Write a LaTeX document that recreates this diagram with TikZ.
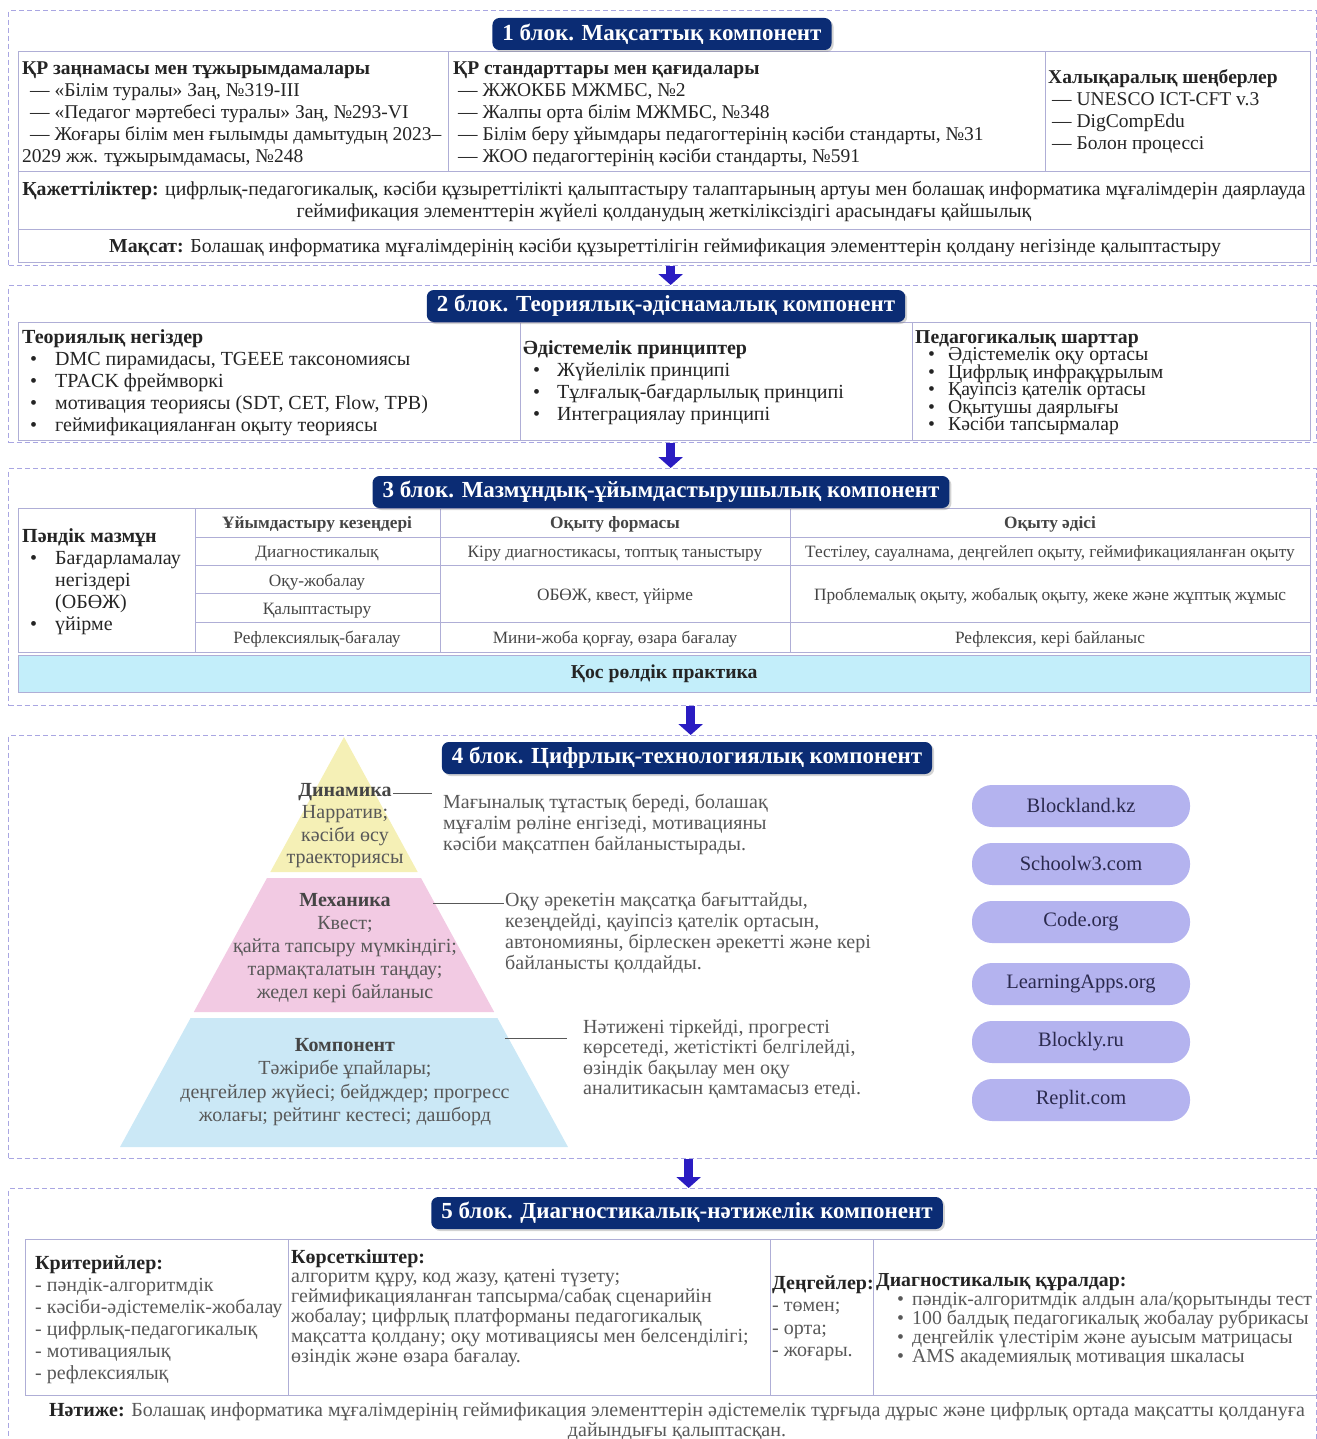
\documentclass[tikz,border=0pt]{standalone}
\usepackage{fontspec}
\setmainfont{Liberation Serif}
\usetikzlibrary{positioning,arrows.meta,shadows}

\definecolor{navy}{HTML}{0B2C74}
\definecolor{framecol}{HTML}{A9A6E2}
\definecolor{gridcol}{HTML}{AFAED6}
\definecolor{arrowcol}{HTML}{2A1CC2}
\definecolor{inkcol}{HTML}{242424}
\definecolor{softcol}{HTML}{585858}
\definecolor{dynfill}{HTML}{F5F0B6}
\definecolor{mechfill}{HTML}{F2CAE3}
\definecolor{compfill}{HTML}{CBE8F6}
\definecolor{practfill}{HTML}{C3EEFA}
\definecolor{pillfill}{HTML}{B4B3EF}
\definecolor{pillink}{HTML}{2B2A4E}

\newcommand{\fsz}[2]{\fontsize{#1}{#2}\selectfont\lineskiplimit=-20pt\relax}
\newcommand{\blt}[1]{\makebox[#1][l]{•}}

\tikzset{
  blockframe/.style={draw=framecol, dash pattern=on 5pt off 3pt, line width=1.3pt, anchor=north west, inner sep=0pt},
  blocktitle/.style={fill=navy, rounded corners=7pt, text=white, font=\fsz{23}{26}\bfseries,
    inner xsep=10pt, inner ysep=0pt, minimum height=32pt,
    drop shadow={shadow xshift=2pt, shadow yshift=-2pt, opacity=0.35}},
  gridline/.style={gridcol, line width=1pt},
  txt/.style={anchor=base west, inner sep=0pt, align=left, text=inkcol, font=\fsz{19.5}{22}},
  ctxt/.style={txt, anchor=base, align=center},
  celltxt/.style={anchor=base, inner sep=0pt, text=inkcol!85, font=\fsz{17.3}{20}},
  softtxt/.style={txt, text=softcol, font=\fsz{20}{21}},
  pyrtxt/.style={ctxt, text=softcol, font=\fsz{20}{22.5}},
  pill/.style={fill=pillfill, rounded corners=20pt, minimum width=218pt, minimum height=42pt,
    inner sep=0pt, text=pillink, font=\fsz{20.5}{22}},
  leader/.style={draw=softcol, line width=0.8pt},
  downarrow/.style={draw=arrowcol, line width=9pt, -{Triangle[width=24pt,length=11pt]}},
}

\begin{document}
\begin{tikzpicture}[x=1pt,y=-1pt]
\useasboundingbox (0,0) rectangle (1316,1439);

% dashed block frames
\node[blockframe, minimum width=1308pt, minimum height=255pt] (blk1) at (8,10) {};
\node[blockframe, minimum width=1308pt, minimum height=157pt] (blk2) at (8,285) {};
\node[blockframe, minimum width=1308pt, minimum height=237pt] (blk3) at (8,468) {};
\node[blockframe, minimum width=1308pt, minimum height=423pt] (blk4) at (8,735) {};
\node[blockframe, minimum width=1308pt, minimum height=262pt] (blk5) at (8,1188) {};

\draw[downarrow] ([xshift=8pt]blk1.south) -- ([xshift=8pt]blk2.north);
\draw[downarrow] ([xshift=8pt]blk2.south) -- ([xshift=8pt]blk3.north);
\draw[downarrow] ([xshift=28pt]blk3.south) -- ([xshift=28pt]blk4.north);
\draw[downarrow] ([xshift=26pt]blk4.south) -- ([xshift=26pt]blk5.north);

% ---- block 1
\draw[gridline] (18,52) rectangle (1310,262);
\draw[gridline] (18,172) -- (1310,172) (18,230) -- (1310,230);
\draw[gridline] (448,52) -- (448,172) (1045,52) -- (1045,172);

\node[txt] (law) at (22,163) {\textbf{ҚР заңнамасы мен тұжырымдамалары}\\
  \hspace*{8pt}— «Білім туралы» Заң, №319-III\\
  \hspace*{8pt}— «Педагог мәртебесі туралы» Заң, №293-VI\\
  \hspace*{8pt}— Жоғары білім мен ғылымды дамытудың 2023–\\
  2029 жж. тұжырымдамасы, №248};
\node[txt] (std) at (453,163) {\textbf{ҚР стандарттары мен қағидалары}\\
  \hspace*{5pt}— ЖЖОКББ МЖМБС, №2\\
  \hspace*{5pt}— Жалпы орта білім МЖМБС, №348\\
  \hspace*{5pt}— Білім беру ұйымдары педагогтерінің кәсіби стандарты, №31\\
  \hspace*{5pt}— ЖОО педагогтерінің кәсіби стандарты, №591};
\node[txt] (intl) at (1048,150) {\textbf{Халықаралық шеңберлер}\\
  \hspace*{4pt}— UNESCO ICT-CFT v.3\\
  \hspace*{4pt}— DigCompEdu\\
  \hspace*{4pt}— Болон процессі};
\node[ctxt, font=\fsz{19.8}{22}] (needs) at (664,218) {\textbf{Қажеттіліктер:} цифрлық-педагогикалық, кәсіби құзыреттілікті қалыптастыру талаптарының артуы мен болашақ информатика мұғалімдерін даярлауда\\
  геймификация элементтерін жүйелі қолданудың жеткіліксіздігі арасындағы қайшылық};
\node[ctxt, font=\fsz{19.8}{22}] (goal) at (665,252) {\textbf{Мақсат:} Болашақ информатика мұғалімдерінің кәсіби құзыреттілігін геймификация элементтерін  қолдану негізінде қалыптастыру};
\node[blocktitle] (t1) at (662,34) {1 блок. Мақсаттық компонент};

% ---- block 2
\draw[gridline] (18,322) rectangle (1310,440);
\draw[gridline] (520,322) -- (520,440) (912,322) -- (912,440);

\node[txt, font=\fsz{20}{22}] (theory) at (22,431) {\textbf{Теориялық негіздер}\\
  \hspace*{8pt}\blt{25pt}DMC пирамидасы, TGEEE таксономиясы\\
  \hspace*{8pt}\blt{25pt}TPACK фреймворкі\\
  \hspace*{8pt}\blt{25pt}мотивация теориясы (SDT, CET, Flow, TPB)\\
  \hspace*{8pt}\blt{25pt}геймификацияланған оқыту теориясы};
\node[txt, font=\fsz{20}{22}] (princ) at (523,420) {\textbf{Әдістемелік принциптер}\\
  \hspace*{10pt}\blt{24pt}Жүйелілік принципі\\
  \hspace*{10pt}\blt{24pt}Тұлғалық-бағдарлылық принципі\\
  \hspace*{10pt}\blt{24pt}Интеграциялау принципі};
\node[txt, font=\fsz{19.7}{17.5}] (cond) at (915,430.5) {\textbf{Педагогикалық шарттар}\\
  \hspace*{13pt}\blt{20pt}Әдістемелік оқу ортасы\\
  \hspace*{13pt}\blt{20pt}Цифрлық инфрақұрылым\\
  \hspace*{13pt}\blt{20pt}Қауіпсіз қателік ортасы\\
  \hspace*{13pt}\blt{20pt}Оқытушы даярлығы\\
  \hspace*{13pt}\blt{20pt}Кәсіби тапсырмалар};
\node[blocktitle] (t2) at (666,306) {2 блок. Теориялық-әдіснамалық компонент};

% ---- block 3
\draw[gridline] (18,508) rectangle (1310,652);
\draw[gridline] (195,508) -- (195,652) (440,508) -- (440,652) (790,508) -- (790,652);
\draw[gridline] (195,537) -- (1310,537) (195,565) -- (1310,565) (195,593) -- (440,593) (195,622) -- (1310,622);

\node[txt, font=\fsz{20}{22}] (subj) at (22,630) {\textbf{Пәндік мазмұн}\\
  \hspace*{8pt}\blt{25pt}Бағдарламалау\\
  \hspace*{33pt}негіздері\\
  \hspace*{33pt}(ОБӨЖ)\\
  \hspace*{8pt}\blt{25pt}үйірме};
\node[celltxt, font=\fsz{17.3}{20}\bfseries] (hstage) at (317,528) {Ұйымдастыру кезеңдері};
\node[celltxt, font=\fsz{17.3}{20}\bfseries] (hform) at (615,528) {Оқыту формасы};
\node[celltxt, font=\fsz{17.3}{20}\bfseries] (hmeth) at (1050,528) {Оқыту әдісі};
\node[celltxt] (st1) at (317,557) {Диагностикалық};
\node[celltxt] (st2) at (317,586) {Оқу-жобалау};
\node[celltxt] (st3) at (317,614) {Қалыптастыру};
\node[celltxt] (st4) at (317,643) {Рефлексиялық-бағалау};
\node[celltxt] (fm1) at (615,557) {Кіру диагностикасы, топтық таныстыру};
\node[celltxt] (fm2) at (615,600) {ОБӨЖ, квест, үйірме};
\node[celltxt] (fm3) at (615,643) {Мини-жоба қорғау, өзара бағалау};
\node[celltxt] (me1) at (1050,557) {Тестілеу, сауалнама, деңгейлеп оқыту, геймификацияланған оқыту};
\node[celltxt] (me2) at (1050,600) {Проблемалық оқыту, жобалық оқыту, жеке және жұптық жұмыс};
\node[celltxt] (me3) at (1050,643) {Рефлексия, кері байланыс};
\node[draw=gridcol, fill=practfill, anchor=north west, minimum width=1292pt, minimum height=37pt,
  inner sep=0pt, text=inkcol, font=\fsz{19.7}{22}\bfseries] (pract) at (18,655) {Қос рөлдік практика};
\node[blocktitle] (t3) at (661,492) {3 блок. Мазмұндық-ұйымдастырушылық компонент};

% ---- block 4
\fill[dynfill] (344,737) -- (417.7,872) -- (270.3,872) -- cycle;
\fill[mechfill] (267,878) -- (421,878) -- (494.2,1012) -- (193.8,1012) -- cycle;
\fill[compfill] (190.6,1018) -- (497.4,1018) -- (568,1147) -- (120,1147) -- cycle;

\node[pyrtxt] (dyn) at (345,863.5) {\textcolor{inkcol!85}{\textbf{Динамика}}\\Нарратив;\\кәсіби өсу\\траекториясы};
\node[pyrtxt, font=\fsz{20}{23}] (mech) at (345,998) {\textcolor{inkcol!85}{\textbf{Механика}}\\Квест;\\қайта тапсыру мүмкіндігі;\\тармақталатын таңдау;\\жедел кері байланыс};
\node[pyrtxt, font=\fsz{20}{23.5}] (comp) at (345,1121.5) {\textcolor{inkcol!85}{\textbf{Компонент}}\\Тәжірибе ұпайлары;\\деңгейлер жүйесі; бейдждер; прогресс\\жолағы; рейтинг кестесі; дашборд};

\node[softtxt] (dyndesc) at (443,850) {Мағыналық тұтастық береді, болашақ\\мұғалім рөліне енгізеді, мотивацияны\\кәсіби мақсатпен байланыстырады.};
\node[softtxt] (mechdesc) at (505,969) {Оқу әрекетін мақсатқа бағыттайды,\\кезеңдейді, қауіпсіз қателік ортасын,\\автономияны, бірлескен әрекетті және кері\\байланысты қолдайды.};
\node[softtxt, font=\fsz{20}{20.5}] (compdesc) at (583,1094.5) {Нәтижені тіркейді, прогресті\\көрсетеді, жетістікті белгілейді,\\өзіндік бақылау мен оқу\\аналитикасын қамтамасыз етеді.};

\coordinate (dynA) at (393,793);  \coordinate (dynB) at (432,793);
\coordinate (mechA) at (433,903); \coordinate (mechB) at (504,903);
\coordinate (compA) at (505,1038); \coordinate (compB) at (567,1038);
\draw[leader] (dynA) -- (dynB);
\draw[leader] (mechA) -- (mechB);
\draw[leader] (compA) -- (compB);

\foreach \lbl/\yy [count=\i] in {Blockland.kz/806, Schoolw3.com/864, Code.org/922,
    LearningApps.org/984, Blockly.ru/1042, Replit.com/1100}
  \node[pill] (app\i) at (1081,\yy) {\lbl};

\node[blocktitle] (t4) at (687,758) {4 блок. Цифрлық-технологиялық компонент};

% ---- block 5
\draw[gridline] (25,1239) -- (1316,1239) (25,1395) -- (1316,1395) (25,1239) -- (25,1395);
\draw[gridline] (288,1239) -- (288,1395) (770,1239) -- (770,1395) (873,1239) -- (873,1395);

\node[txt, text=softcol, font=\fsz{20}{22}] (crit) at (35,1379) {\textcolor{inkcol}{\textbf{Критерийлер:}}\\
  - пәндік-алгоритмдік\\- кәсіби-әдістемелік-жобалау\\- цифрлық-педагогикалық\\- мотивациялық\\- рефлексиялық};
\node[txt, text=softcol, font=\fsz{20}{19.8}] (indic) at (291,1362) {\textcolor{inkcol}{\textbf{Көрсеткіштер:}}\\
  алгоритм құру, код жазу, қатені түзету;\\
  геймификацияланған тапсырма/сабақ сценарийін\\
  жобалау; цифрлық платформаны педагогикалық\\
  мақсатта қолдану; оқу мотивациясы мен белсенділігі;\\
  өзіндік және өзара бағалау.};
\node[txt, text=softcol, font=\fsz{20}{22.5}] (lvl) at (772,1356.5) {\textcolor{inkcol}{\textbf{Деңгейлер:}}\\
  - төмен;\\- орта;\\- жоғары.};
\node[txt, text=softcol, font=\fsz{19.8}{19}] (tools) at (876,1362) {\textcolor{inkcol}{\textbf{Диагностикалық құралдар:}}\\
  \hspace*{21pt}\blt{15pt}пәндік-алгоритмдік алдын ала/қорытынды тест\\
  \hspace*{21pt}\blt{15pt}100 балдық педагогикалық жобалау рубрикасы\\
  \hspace*{21pt}\blt{15pt}деңгейлік үлестірім және ауысым матрицасы\\
  \hspace*{21pt}\blt{15pt}AMS академиялық мотивация шкаласы};
\node[ctxt, text=softcol, font=\fsz{20}{20}] (result) at (677,1436) {\textcolor{inkcol}{\textbf{Нәтиже:}} Болашақ информатика мұғалімдерінің геймификация элементтерін әдістемелік тұрғыда дұрыс және цифрлық ортада мақсатты қолдануға\\
  дайындығы қалыптасқан.};
\node[blocktitle] (t5) at (687,1213) {5 блок. Диагностикалық-нәтижелік компонент};
\end{tikzpicture}
\end{document}
